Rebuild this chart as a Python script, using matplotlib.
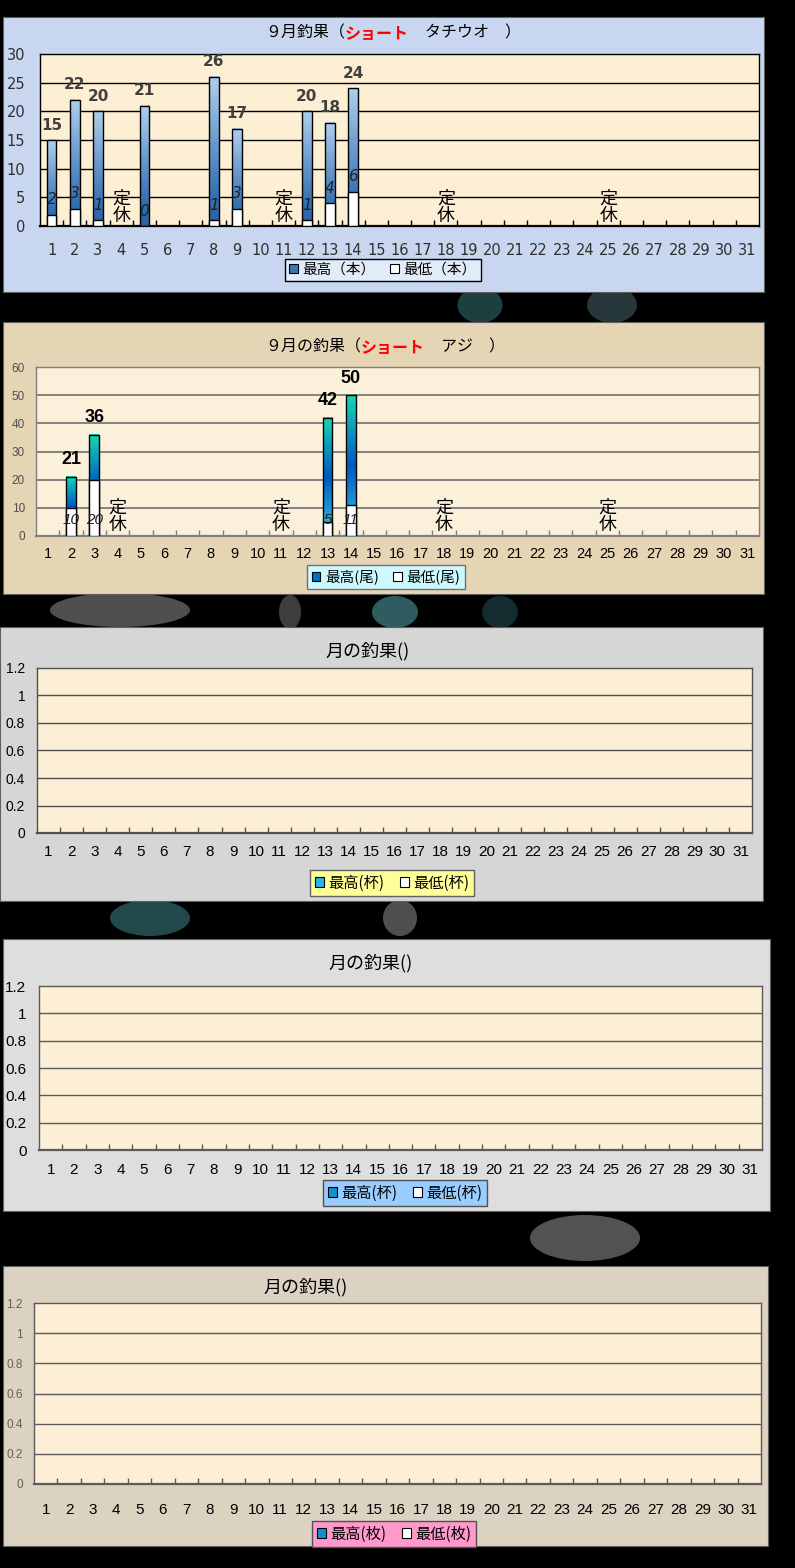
import numpy as np
import matplotlib
matplotlib.use("Agg")
import matplotlib.pyplot as plt
from matplotlib.patches import Rectangle, Patch, Ellipse
from matplotlib.colors import LinearSegmentedColormap

W, H = 795, 1568

# ---------------- data ----------------
days = list(range(1, 32))
day_labels = [str(d) for d in days]
holidays = [4, 11, 18, 25]
holiday_text = "定\n休"

# panel 1 : タチウオ
p1_days = [1, 2, 3, 5, 8, 9, 12, 13, 14]
p1_max = [15, 22, 20, 21, 26, 17, 20, 18, 24]
p1_min = [2, 3, 1, 0, 1, 3, 1, 4, 6]
p1_yticks = [0, 5, 10, 15, 20, 25, 30]
p1_ylabels = ["0", "5", "10", "15", "20", "25", "30"]
p1_legend = ["最高（本）", "最低（本）"]

# panel 2 : アジ
p2_days = [2, 3, 13, 14]
p2_max = [21, 36, 42, 50]
p2_min = [10, 20, 5, 11]
p2_yticks = [0, 10, 20, 30, 40, 50, 60]
p2_ylabels = ["0", "10", "20", "30", "40", "50", "60"]
p2_legend = ["最高(尾)", "最低(尾)"]

# empty panels
empty_yticks = [0, 0.2, 0.4, 0.6, 0.8, 1.0, 1.2]
empty_ylabels = ["0", "0.2", "0.4", "0.6", "0.8", "1", "1.2"]
p3_legend = ["最高(杯)", "最低(杯)"]
p4_legend = ["最高(杯)", "最低(杯)"]
p5_legend = ["最高(枚)", "最低(枚)"]

title1 = [("９月釣果（", "black", "normal"), ("ショート", "#ff0000", "bold"), ("　タチウオ　）", "black", "normal")]
title2 = [("９月の釣果（", "black", "normal"), ("ショート", "#ff0000", "bold"), ("　アジ　）", "black", "normal")]
title_empty = [("月の釣果()", "black", "normal")]

# ---------------- helpers ----------------
JP = ["Noto Sans CJK JP", "DejaVu Sans"]
DV = ["DejaVu Sans", "Noto Sans CJK JP"]
AR = ["Liberation Sans", "Noto Sans CJK JP"]

fig = plt.figure(figsize=(W / 100, H / 100), dpi=100, facecolor="black")


def frect(x0, y0, x1, y1):
    return [x0 / W, 1 - y1 / H, (x1 - x0) / W, (y1 - y0) / H]


def fpt(x, y):
    return (x / W, 1 - y / H)


# decorative background shapes on the black page
deco = [
    (480, 305, 45, 36, "#3f8c90", 0.45), (612, 305, 50, 36, "#6f9fa5", 0.35),
    (120, 610, 140, 34, "#c8c8c8", 0.40), (290, 612, 22, 34, "#9a9a9a", 0.4),
    (395, 612, 46, 32, "#5fb8c0", 0.5), (500, 612, 36, 32, "#3a8088", 0.35),
    (150, 918, 80, 36, "#4aa0a8", 0.45), (400, 918, 34, 36, "#c8c8c8", 0.4),
    (585, 1238, 110, 46, "#cfcfcf", 0.4),
]
for (cx, cy, ew, eh, c, a) in deco:
    fig.add_artist(Ellipse(fpt(cx, cy), ew / W, eh / H, transform=fig.transFigure,
                           facecolor=c, edgecolor="none", alpha=a, zorder=-5))


def panel(box, bg, plot, ylim, yticks, ylabels, yfont, ysize, ycolor, ypad,
          xfont, xsize, xcolor, xpad, gridc, gridlw, framec, framelw, face):
    x0, y0, x1, y1 = box
    fig.add_artist(Rectangle(fpt(x0, y1), (x1 - x0) / W, (y1 - y0) / H,
                             transform=fig.transFigure, facecolor=bg,
                             edgecolor="#606060", lw=0.8, zorder=-2))
    ax = fig.add_axes(frect(*plot))
    ax.set_facecolor(face)
    ax.set_xlim(0.5, 31.5)
    ax.set_ylim(*ylim)
    ax.set_xticks(days)
    ax.set_xticklabels(day_labels, fontfamily=xfont, fontsize=xsize, color=xcolor)
    ax.set_xticks(np.arange(1.5, 31.5, 1.0), minor=True)
    ax.tick_params(axis="x", which="major", length=0, pad=xpad)
    ax.tick_params(axis="x", which="minor", length=4, width=1, direction="in",
                   color=framec)
    ax.set_yticks(yticks)
    ax.set_yticklabels(ylabels, fontfamily=yfont, fontsize=ysize, color=ycolor)
    ax.tick_params(axis="y", length=0, pad=ypad)
    for v in yticks[1:-1]:
        ax.axhline(v, color=gridc, lw=gridlw, zorder=1)
    for s in ax.spines.values():
        s.set_color(framec)
        s.set_linewidth(framelw)
    ax.spines["bottom"].set_linewidth(framelw + 0.6)
    return ax


def title(ax, x, y, parts, size):
    s, c, w = parts[0]
    prev = ax.text(x / W, 1 - y / H, s, transform=fig.transFigure, ha="left",
                   va="center", fontsize=size, color=c, fontweight=w, fontfamily=JP)
    for s, c, w in parts[1:]:
        prev = ax.annotate(s, xy=(1, 0), xycoords=prev, ha="left", va="bottom",
                           fontsize=size, color=c, fontweight=w, fontfamily=JP,
                           annotation_clip=False)


def legend(ax, labels, cx, cy, c_hi, face, edge, size):
    handles = [Patch(facecolor=c_hi, edgecolor="black", lw=0.8),
               Patch(facecolor="white", edgecolor="black", lw=0.8)]
    lg = fig.legend(handles, labels, loc="center", bbox_to_anchor=fpt(cx, cy),
                    ncol=2, frameon=True, fancybox=False, facecolor=face,
                    edgecolor=edge, framealpha=1, handlelength=0.6,
                    handleheight=0.6, handletextpad=0.3, columnspacing=1.0,
                    borderpad=0.3, prop={"family": JP, "size": size})
    lg.get_frame().set_linewidth(1.0)


def grad_bars(ax, x, vmax, vmin, cmap, width):
    bars = ax.bar(x, vmax, width=width, facecolor="none", edgecolor="black",
                  lw=1.0, zorder=4)
    grad = np.linspace(0, 1, 256).reshape(-1, 1)
    for r in bars:
        ax.imshow(grad, extent=[r.get_x(), r.get_x() + r.get_width(), 0, r.get_height()],
                  origin="lower", aspect="auto", cmap=cmap, zorder=3,
                  interpolation="bilinear")
    ax.bar(x, vmin, width=width, facecolor="white", edgecolor="black", lw=1.0, zorder=5)
    return bars


def holidays_text(ax, size, offs):
    for d in holidays:
        ax.annotate(holiday_text, xy=(d, 0), xytext=(0, offs), textcoords="offset pixels",
                    ha="center", va="bottom", fontsize=size, fontfamily=JP,
                    color="black", linespacing=0.95, zorder=6)


# ---------------- panel 1 ----------------
ax1 = panel((3, 17, 764, 292), "#c8d6f0", (40, 54, 759, 226), (0, 30),
            p1_yticks, p1_ylabels, DV, 10.5, "#303030", 10.5,
            DV, 10.5, "#303030", 12, "black", 1.0, "black", 1.0, "#fcefd3")
cm1 = LinearSegmentedColormap.from_list("c1", [(0, "#2a60a0"), (0.2, "#3370b2"),
                                                (1, "#b0cfee")])
grad_bars(ax1, p1_days, p1_max, p1_min, cm1, 0.42)
ax1.set_xlim(0.5, 31.5)
ax1.set_ylim(0, 30)
for d, v in zip(p1_days, p1_max):
    ax1.annotate(str(v), xy=(d, v), xytext=(0, 15), textcoords="offset pixels",
                 ha="center", va="center", fontsize=11, fontweight="bold",
                 fontfamily=DV, color="#404040", annotation_clip=False, zorder=7)
for d, v in zip(p1_days, p1_min):
    ax1.annotate(str(v), xy=(d, v), xytext=(0, 15), textcoords="offset pixels",
                 ha="center", va="center", fontsize=11, fontstyle="italic",
                 fontfamily=DV, color="#202020", zorder=7)
holidays_text(ax1, 13, 1)
title(ax1, 265, 33, title1, 11.5)
legend(ax1, p1_legend, 383, 270, "#3a78b8", "#e2ecf8", "black", 10.5)

# ---------------- panel 2 ----------------
ax2 = panel((3, 322, 764, 594), "#e6d5b4", (36, 367, 759, 536), (0, 60),
            p2_yticks, p2_ylabels, AR, 8.5, "#505050", 8,
            AR, 10.5, "black", 8, "#7a7a7a", 1.3, "#808080", 1.0, "#fbf0da")
cm2 = LinearSegmentedColormap.from_list("c2", [(0, "#38c8e0"), (0.5, "#0058c2"),
                                                (1, "#18d8b2")])
grad_bars(ax2, p2_days, p2_max, p2_min, cm2, 0.42)
ax2.set_xlim(0.5, 31.5)
ax2.set_ylim(0, 60)
for d, v in zip(p2_days, p2_max):
    ax2.annotate(str(v), xy=(d, v), xytext=(0, 17), textcoords="offset pixels",
                 ha="center", va="center", fontsize=13, fontweight="bold",
                 fontfamily=AR, color="black", annotation_clip=False, zorder=7)
for d, v in zip(p2_days, p2_min):
    ax2.annotate(str(v), xy=(d, 0), xytext=(0, 16), textcoords="offset pixels",
                 ha="center", va="center", fontsize=11, fontstyle="italic",
                 fontfamily=AR, color="#202020", zorder=7)
holidays_text(ax2, 13, 2)
title(ax2, 265, 347, title2, 11.5)
legend(ax2, p2_legend, 386, 577, "#0070c8", "#ccf8ff", "#707070", 10.5)

# ---------------- panel 3 ----------------
ax3 = panel((0, 627, 763, 901), "#d6d6d6", (37, 668, 752, 833), (0, 1.2),
            empty_yticks, empty_ylabels, AR, 10, "black", 8.5,
            AR, 11, "black", 9, "#505050", 1.0, "#505050", 1.0, "#fcefd6")
title(ax3, 325, 651, title_empty, 13)
legend(ax3, p3_legend, 392, 883, "#22b8e8", "#ffff99", "#606060", 11)

# ---------------- panel 4 ----------------
ax4 = panel((3, 939, 770, 1211), "#dedede", (39, 986, 762, 1150), (0, 1.2),
            empty_yticks, empty_ylabels, AR, 11, "black", 9,
            AR, 11, "black", 9, "#5a5a5a", 1.0, "#5a5a5a", 1.0, "#fcefd6")
title(ax4, 328, 963, title_empty, 13)
legend(ax4, p4_legend, 405, 1193, "#1090d0", "#99ccff", "#505050", 11)

# ---------------- panel 5 ----------------
ax5 = panel((3, 1266, 768, 1546), "#dbd2c2", (34, 1303, 761, 1484), (0, 1.2),
            empty_yticks, empty_ylabels, AR, 8.5, "#606060", 8,
            AR, 11, "black", 14, "#5a5a5a", 1.0, "#5a5a5a", 1.0, "#fcefd6")
title(ax5, 263, 1287, title_empty, 13)
legend(ax5, p5_legend, 394, 1534, "#1090d0", "#ff99cc", "#505050", 11)

fig.savefig("out.png", dpi=100, facecolor="black")
